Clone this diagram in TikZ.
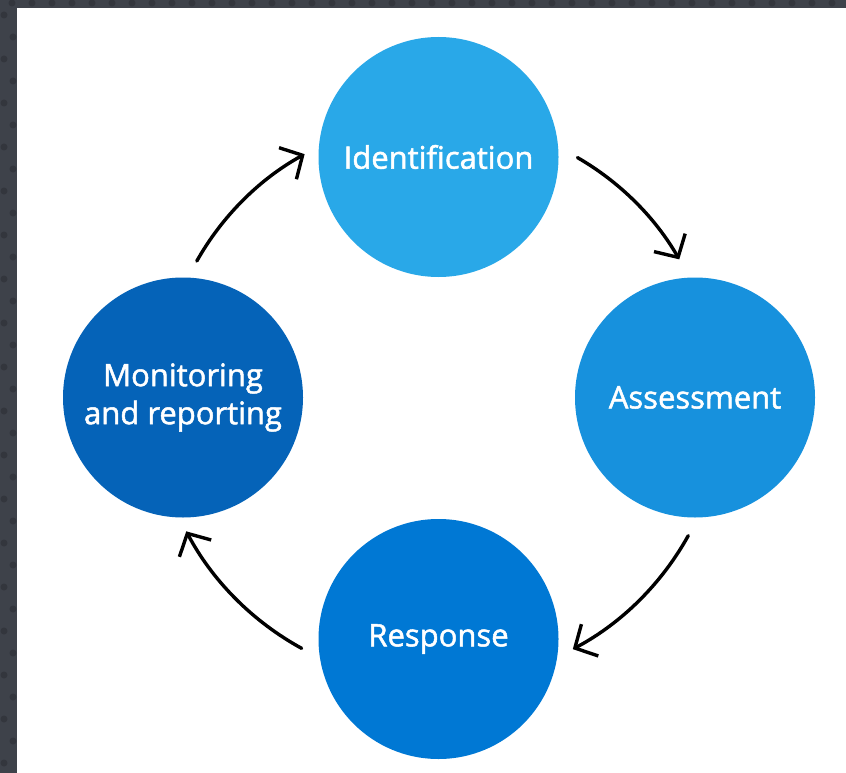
\documentclass[tikz,border=0pt]{standalone}
\usepackage{fontspec}
\setmainfont{Open Sans}
\newfontfamily\stagefont{Open Sans}[FakeBold=1.6]
\usetikzlibrary{arrows.meta,calc}
\definecolor{cIdent}{HTML}{29A8E8}
\definecolor{cAssess}{HTML}{1791DD}
\definecolor{cResp}{HTML}{0078D4}
\definecolor{cMon}{HTML}{0563B8}
\definecolor{cFrame}{HTML}{3E424A}
\definecolor{cDot}{HTML}{2C2F35}
\tikzset{
  stage/.style={circle, minimum size=240pt, inner sep=0pt, text=white,
    align=center, font=\stagefont\fontsize{31}{38}\selectfont},
  flow/.style={line width=3.4pt, line cap=round, line join=round,
    -{Straight Barb[length=17pt,width=36pt,line width=3.4pt]}}
}
\begin{document}
\begin{tikzpicture}[x=1pt,y=-1pt]
\useasboundingbox (0,0) rectangle (846,773);
\fill[cFrame] (0,0) rectangle (846,773);
\foreach \i in {0,...,42} {\fill[cDot, opacity=0.6] (\i*20+12,3) circle (3.5);}
\foreach \j in {0,...,35} {\fill[cDot, opacity=0.6] ({mod(\j,2)*9+4},\j*22+15) circle (3.5);}
\fill[white] (17,8) rectangle (846,773);

\coordinate (hub) at (439,397.5);
\node[stage, fill=cIdent] (ident) at (438.5,157) {Identification};
\node[stage, fill=cAssess] (assess) at (695,397.5) {Assessment};
\node[stage, fill=cResp] (resp) at (438.5,639) {Response};
\node[stage, fill=cMon] (mon) at (183,397.5) {Monitoring\\and reporting};

\coordinate (a1s) at ($(hub)+(-60:277)$);
\coordinate (a2s) at ($(hub)+(29:285)$);
\coordinate (a3s) at ($(hub)+(118.7:286)$);
\coordinate (a4s) at ($(hub)+(209.4:278)$);

\draw[flow] (a1s) arc[start angle=-60, end angle=-30, radius=278];
\draw[flow] (a2s) arc[start angle=29, end angle=62, radius=285];
\draw[flow] (a3s) arc[start angle=118.7, end angle=152.1, radius=286];
\draw[flow] (a4s) arc[start angle=209.4, end angle=241.1, radius=278];
\end{tikzpicture}
\end{document}
